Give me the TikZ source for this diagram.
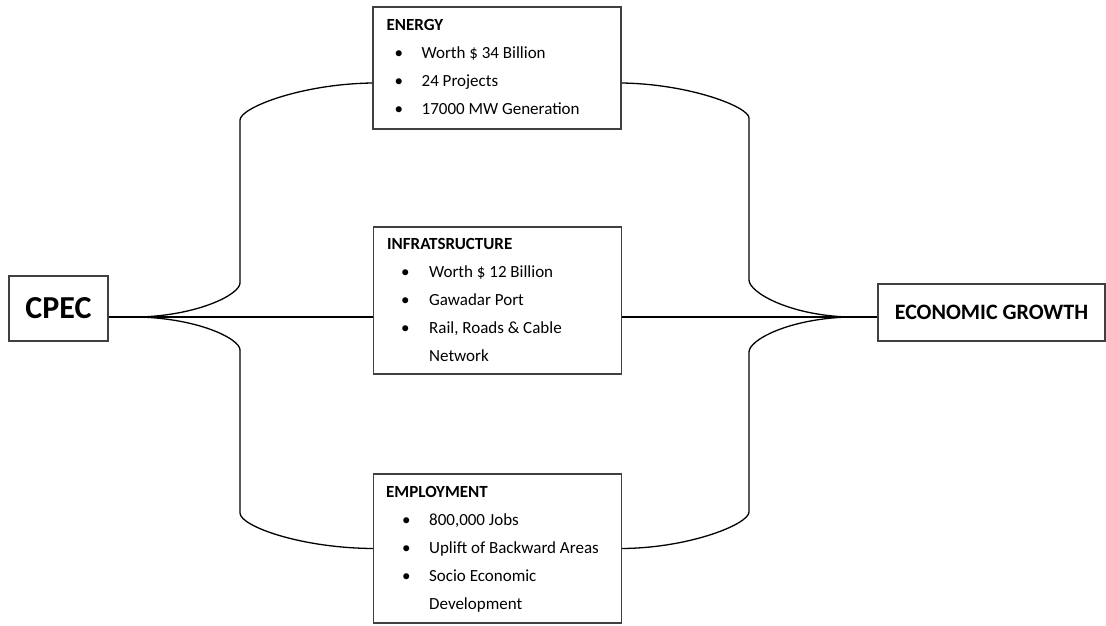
\documentclass[tikz,border=0pt]{standalone}
\usepackage{fontspec}
\setmainfont{Carlito}
\usetikzlibrary{math}
\newcommand\bitem[3]{\makebox[#2pt][l]{\hspace{#1pt}\textbullet}#3}

\begin{document}
\begin{tikzpicture}[
    x=1pt, y=-1pt,
    box/.style={draw=black!75, line width=1.1pt, inner sep=0pt},
    txt/.style={anchor=north west, inner sep=0pt, align=left,
        font=\fontsize{17}{28}\selectfont},
    link/.style={line width=1.3pt, black}
    ]

\useasboundingbox (0,0) rectangle (1106,626);

% Sizes of the three middle boxes
\tikzmath{
    \w = 248;
    \hone = 122;
    \htwo = 147;
    \hthree = 149;
}

% Draws the end boxes
\node[box, minimum width=99, minimum height=65,
    font=\bfseries\fontsize{32}{36}\selectfont] (cpec) at (58.5,308.5) {CPEC};
\node[box, minimum width=227, minimum height=57,
    font=\bfseries\fontsize{22}{26}\selectfont] (growth) at (991.5,312.5) {ECONOMIC GROWTH};

% Draws the middle boxes
\node[box, minimum width=\w, minimum height=\hone] (energy) at (497,68) {};
\node[box, minimum width=\w, minimum height=\htwo] (infra) at (497.5,300.5) {};
\node[box, minimum width=\w, minimum height=\hthree] (employment) at (497.5,548.5) {};

% Text of the middle boxes
\node[txt] (energytext) at ([xshift=14,yshift=-13]energy.north west)
    {\textbf{ENERGY}\\
     \bitem{8}{35}{Worth \$ 34 Billion}\\
     \bitem{8}{35}{24 Projects}\\
     \bitem{8}{35}{17000 MW Generation}};
\node[txt] (infratext) at ([xshift=14,yshift=-12]infra.north west)
    {\textbf{INFRATSRUCTURE}\\
     \bitem{14}{42}{Worth \$ 12 Billion}\\
     \bitem{14}{42}{Gawadar Port}\\
     \bitem{14}{42}{Rail, Roads \& Cable}\\
     \hspace*{42pt}Network};
\node[txt] (employmenttext) at ([xshift=13,yshift=-13]employment.north west)
    {\textbf{EMPLOYMENT}\\
     \bitem{16}{43}{800,000 Jobs}\\
     \bitem{16}{43}{Uplift of Backward Areas}\\
     \bitem{16}{43}{Socio Economic}\\
     \hspace*{43pt}Development};

% Fork points
\coordinate (lfork) at (140,317);
\coordinate (rfork) at (848,317);

% Draws the middle branch
\draw[link] ([yshift=-8.5]cpec.east) -- (lfork) -- ([yshift=-16.5]infra.west);
\draw[link] ([yshift=-16.5]infra.east) -- (rfork) -- ([yshift=-4.5]growth.west);

% Draws the upper branch
\draw[link] (lfork) .. controls (200,315) and (240,294) .. (240,283)
    -- (240,120) .. controls (240,108) and (300,84) .. ([yshift=-15]energy.west);
\draw[link] ([yshift=-15]energy.east) .. controls (690,84) and (749,107) .. (749,118)
    -- (749,280) .. controls (749,292) and (788,315) .. (rfork);

% Draws the lower branch
\draw[link] (lfork) .. controls (200,319) and (240,339) .. (240,350)
    -- (240,513) .. controls (240,526) and (300,548) .. (employment.west);
\draw[link] (employment.east) .. controls (690,548) and (749,524) .. (749,512)
    -- (749,352) .. controls (749,340) and (788,319) .. (rfork);

\end{tikzpicture}
\end{document}
